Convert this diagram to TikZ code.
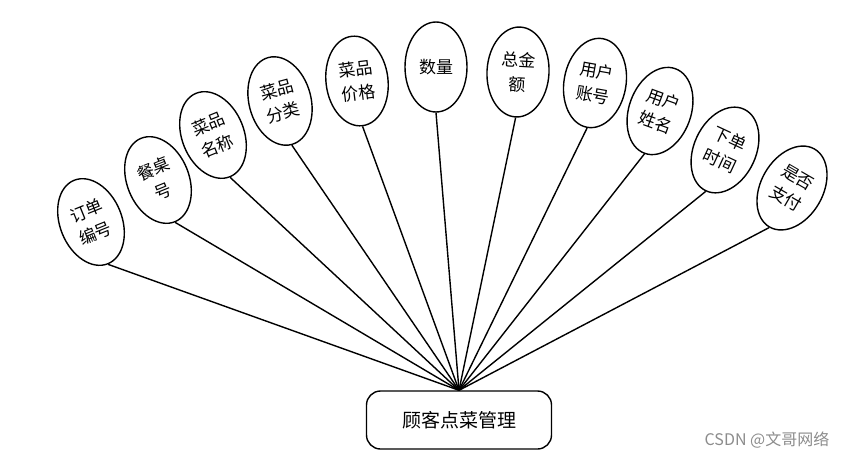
\documentclass[tikz,border=0pt]{standalone}
\usepackage{fontspec}
\newfontfamily\cjk{Noto Sans CJK SC}
\usetikzlibrary{shapes.geometric}
\tikzset{
  attr/.style={draw,line width=1.4pt,ellipse,minimum width=62pt,minimum height=90pt,inner sep=0pt,align=center,font=\cjk\fontsize{17}{24}\selectfont},
  mgrbox/.style={draw,line width=1.4pt,rounded corners=14pt,minimum width=185pt,minimum height=58pt,font=\cjk\fontsize{19}{22}\selectfont},
  link/.style={line width=1.4pt}
}
\begin{document}
\begin{tikzpicture}[x=1pt,y=-1pt]
\useasboundingbox (0,0) rectangle (851,458);
\node[mgrbox] (mgr) at (459,420) {顾客点菜管理};
% attributes
\node[attr,rotate=22] (e1) at (91,222) {订单\\编号};
\node[attr,rotate=22] (e2) at (158,180) {餐桌\\号};
\node[attr,rotate=22] (e3) at (213,135) {菜品\\名称};
\node[attr,rotate=15] (e4) at (280,101) {菜品\\分类};
\node[attr,rotate=7] (e5) at (357,81) {菜品\\价格};
\node[attr] (e6) at (436,67) {数量};
\node[attr,rotate=-3] (e7) at (518,72) {总金\\额};
\node[attr,rotate=-10] (e8) at (595,83) {用户\\账号};
\node[attr,rotate=-20] (e9) at (660,111) {用户\\姓名};
\node[attr,rotate=-25] (e10) at (725,150) {下单\\时间};
\node[attr,rotate=-30] (e11) at (792,188) {是否\\支付};
\foreach \i in {1,...,11}\draw[link] (e\i.south) -- (mgr.north);
\node[text=black!45,font=\cjk\fontsize{16}{18}\selectfont] (mark) at (767,440) {CSDN @文哥网络};
\end{tikzpicture}
\end{document}
